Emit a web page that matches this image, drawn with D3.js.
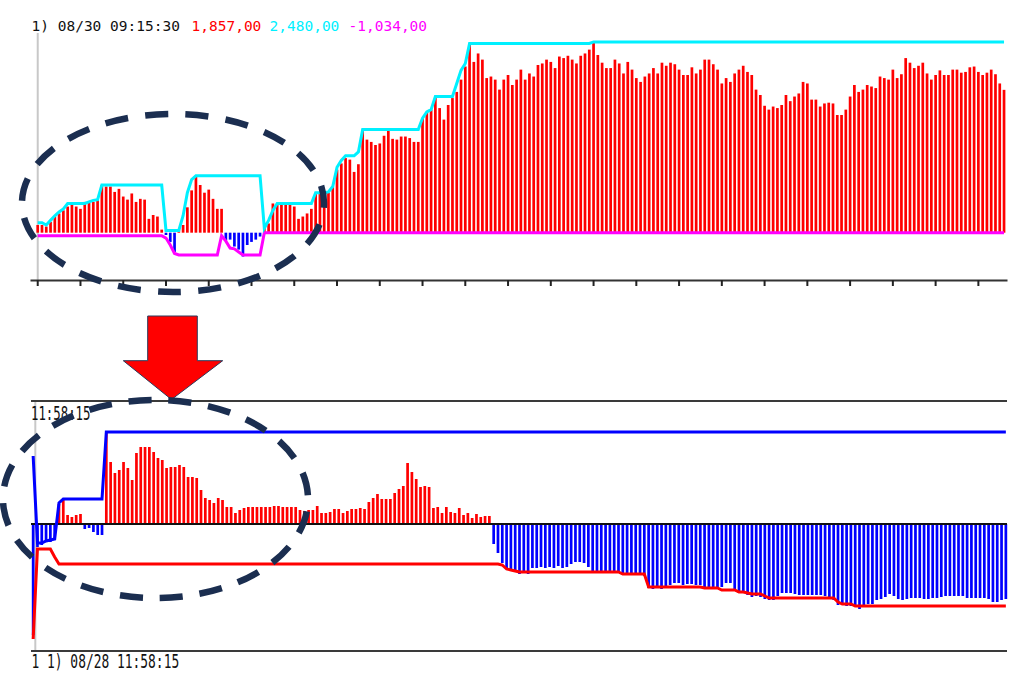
<!DOCTYPE html>
<html><head><meta charset="utf-8">
<script src="https://cdn.jsdelivr.net/npm/d3@7"></script>
<style>
html,body{margin:0;padding:0;background:#fff;}
svg{display:block;}
</style></head>
<body><svg id="c" width="1022" height="684"></svg>
<script>
// ---------- DATA ----------
// Upper panel (08/30): bar values, running high (cyan), running low (magenta)
const topBars = [
100,100,80,140,210,250,290,340,360,340,310,400,390,400,430,620,600,600,530,570,
470,430,510,400,440,430,180,230,210,40,-30,-120,-250,30,100,330,550,740,620,520,
560,440,310,310,-100,-90,-180,-220,-310,-160,-120,-90,-50,80,120,380,360,380,360,380,
340,180,210,250,310,510,
510,480,520,600,820,900,970,950,790,890,
1340,1210,1180,1140,1160,1260,1340,1220,1210,1250,
1250,1230,1180,1180,1490,1570,1600,1770,1620,1470,
1660,1750,1830,1990,2160,2460,2220,2330,2250,2010,
2030,1990,1860,1990,2050,1920,1990,2120,1990,2070,
2030,2180,2200,2250,2220,2140,2290,2270,2300,2250,
2200,2300,2330,2380,2480,2310,2210,2140,2140,2250,
2200,2070,2220,2120,2010,1960,2030,2070,2140,2070,
2210,2170,2210,2190,2120,2050,2050,2150,2070,2120,
2250,2250,2190,2120,1940,2010,1960,2070,2120,2170,
2090,2050,1860,1790,1650,1600,1640,1620,1660,1790,
1710,1770,1810,1960,1940,1730,1730,1640,1680,1690,
1680,1530,1530,1600,1770,1920,1830,1860,1920,1900,
1880,2030,2010,1990,2120,2010,2060,2270,2210,2140,
2170,2210,2070,1990,2050,2110,2050,2050,2120,2120,
2080,2090,2150,2160,2090,2050,2080,2120,2060,1940,
1857];
const topHigh = [
130,130,100,160,220,270,310,380,380,380,380,380,400,420,430,
620,620,620,620,620,620,620,620,620,620,620,620,620,620,620,
30,30,30,30,220,520,690,
740,740,740,740,740,740,740,740,740,740,740,740,740,740,740,740,
60,160,290,380,380,380,380,380,380,380,380,380,520,520,520,530,600,850,940,
1000,1000,1000,1050,
1340,1340,1340,1340,1340,1340,1340,1340,1340,1340,1340,1340,1340,1340,
1490,1570,1600,1770,1770,1770,1770,1770,1940,2110,2200,
2460,2460,2460,2460,2460,2460,2460,2460,2460,2460,2460,2460,2460,2460,2460,
2460,2460,2460,2460,2460,2460,2460,2460,2460,2460,2460,2460,2460,2460,
2480,2480,2480,2480,2480,2480,2480,2480,2480,2480,2480,2480,2480,2480,2480,2480,
2480,2480,2480,2480,2480,2480,2480,2480,2480,2480,2480,2480,2480,2480,2480,2480,
2480,2480,2480,2480,2480,2480,2480,2480,2480,2480,2480,2480,2480,2480,2480,2480,
2480,2480,2480,2480,2480,2480,2480,2480,2480,2480,2480,2480,2480,2480,2480,2480,
2480,2480,2480,2480,2480,2480,2480,2480,2480,2480,2480,2480,2480,2480,2480,2480,
2480,2480,2480,2480,2480,2480,2480,2480,2480,2480,2480,2480,2480,2480,2480,2480,
2480];
const topLow = [
-40,-40,-40,-40,-40,-40,-40,-40,-40,-40,-40,-40,-40,-40,-40,
-40,-40,-40,-40,-40,-40,-40,-40,-40,-40,-40,-40,-40,-40,-40,
-70,-160,-270,-290,-290,-290,-290,-290,-290,-290,-290,-290,-290,
-40,-110,-200,-210,-250,-290,-290,-290,-290,-290,
0,0,0,0,0,0,0,0,0,0,0,0,0,0,0,0,0,0,0,0,0,0,0,0,0,0,0,0,0,0,
0,0,0,0,0,0,0,0,0,0,0,0,0,0,0,0,0,0,0,0,0,0,0,0,0,0,0,0,0,0,
0,0,0,0,0,0,0,0,0,0,0,0,0,0,0,0,0,0,0,0,0,0,0,0,0,0,0,0,0,0,
0,0,0,0,0,0,0,0,0,0,0,0,0,0,0,0,0,0,0,0,0,0,0,0,0,0,0,0,0,0,
0,0,0,0,0,0,0,0,0,0,0,0,0,0,0,0,0,0,0,0,0,0,0,0,0,0,0,0,0,0,
0,0,0,0,0,0,0,0,0,0,0,0,0,0,0,0,0,0,0,0,0,0,0,0];

// Lower panel (08/28)
const botBars = [
-1110,-230,-210,-180,-180,-160,200,250,90,70,90,100,-50,-40,-80,-110,-110,910,620,510,
540,620,560,440,710,770,770,770,720,660,640,560,570,570,590,570,470,470,460,340,
260,240,210,260,240,170,170,110,140,160,170,170,170,170,170,170,180,180,170,170,
170,170,140,130,140,140,180,110,110,120,150,150,110,130,150,150,160,150,220,260,
300,250,250,250,310,350,380,610,520,450,370,380,370,160,170,110,170,120,110,160,
90,110,60,100,70,80,80,-200,-290,-390,-440,-460,-480,-500,-490,-500,-440,-440,-430,-440,
-430,-440,-420,-440,-430,-400,-380,-380,-390,-430,-470,-470,-470,-480,-480,-480,-480,-500,-510,-510,
-510,-500,-520,-640,-650,-630,-650,-630,-610,-590,-590,-610,-600,-600,-610,-610,-650,-650,-650,-650,
-630,-590,-590,-650,-690,-680,-710,-730,-720,-730,-750,-760,-760,-720,-690,-690,-690,-700,-710,-710,
-710,-710,-710,-710,-720,-730,-760,-810,-810,-820,-820,-830,-850,-810,-800,-800,-760,-750,-730,-700,
-720,-750,-760,-750,-740,-740,-740,-750,-750,-740,-740,-730,-720,-720,-720,-720,-720,-740,-740,-740,
-740,-740,-750,-780,-780,-760,-750];
const botHigh = [
680,-190,-190,-170,-160,-150,210,
250,250,250,250,250,250,250,250,250,250,
920,920,920,920,920,920,920,920,920,920,
920,920,920,920,920,920,920,920,920,920,
920,920,920,920,920,920,920,920,920,920,
920,920,920,920,920,920,920,920,920,920,
920,920,920,920,920,920,920,920,920,920,
920,920,920,920,920,920,920,920,920,920,
920,920,920,920,920,920,920,920,920,920,
920,920,920,920,920,920,920,920,920,920,
920,920,920,920,920,920,920,920,920,920,
920,920,920,920,920,920,920,920,920,920,
920,920,920,920,920,920,920,920,920,920,
920,920,920,920,920,920,920,920,920,920,
920,920,920,920,920,920,920,920,920,920,
920,920,920,920,920,920,920,920,920,920,
920,920,920,920,920,920,920,920,920,920,
920,920,920,920,920,920,920,920,920,920,
920,920,920,920,920,920,920,920,920,920,
920,920,920,920,920,920,920,920,920,920,
920,920,920,920,920,920,920,920,920,920,
920,920,920,920,920,920,920,920,920,920,
920,920,920,920,920,920,920,920,920,920];
const botLow = [
-1150,-250,-250,-250,-250,-330,
-400,-400,-400,-400,-400,-400,-400,-400,-400,-400,-400,-400,-400,-400,-400,-400,-400,-400,-400,-400,
-400,-400,-400,-400,-400,-400,-400,-400,-400,-400,-400,-400,-400,-400,-400,-400,-400,-400,-400,-400,
-400,-400,-400,-400,-400,-400,-400,-400,-400,-400,-400,-400,-400,-400,-400,-400,-400,-400,-400,-400,
-400,-400,-400,-400,-400,-400,-400,-400,-400,-400,-400,-400,-400,-400,-400,-400,-400,-400,-400,-400,
-400,-400,-400,-400,-400,-400,-400,-400,-400,-400,-400,-400,-400,-400,-400,-400,-400,-400,-400,-400,
-400,-400,-400,
-410,-450,-460,-470,
-480,-480,-480,-480,-480,-480,-480,-480,-480,-480,-480,-480,-480,-480,-480,-480,-480,-480,-480,-480,-480,-480,-480,-480,
-500,-500,-500,-500,-500,-500,
-630,-630,-630,-630,-630,-630,-630,-630,-630,-630,-630,-630,-630,
-640,-640,-640,-640,-660,-660,-660,-660,-680,-680,-690,-700,-700,-700,-720,
-740,-740,-740,-740,-740,-740,-740,-740,-740,-740,-740,-740,-740,-740,-740,-740,
-780,-800,-800,-800,
-820,-820,-820,-820,-820,-820,-820,-820,-820,-820,-820,-820,-820,-820,-820,-820,-820,-820,
-820,-820,-820,-820,-820,-820,-820,-820,-820,-820,-820,-820,-820,-820,-820,-820,-820,-820];

const topTicks = [0,10,20,30,40,50,60,70,80,90,100,110,120,130,140,150,160,170,180,190,200,210,220];
const headerLabel = "1) 08/30 09:15:30";
const headerValues = ["1,857,00", "2,480,00", "-1,034,00"];
const botTopLabel = "11:58:15";
const botBottomLabel = "1 1) 08/28 11:58:15";

// ---------- DRAW ----------
const svg = d3.select("#c");
const RED = "#ff0000", BLUE = "#0000ff", CYAN = "#00f0ff", MAG = "#ff00ff";
const BAR_W = 2.7;

// ---- upper panel ----
const xT = d3.scaleBand().domain(d3.range(topBars.length)).range([30, 1007])
  .paddingInner(0).paddingOuter(0.75).align(0.87);
const yT = d3.scaleLinear().domain([-615, 2635]).range([280, 30]);
const bwT = xT.bandwidth();
const cxT = i => xT(i) + bwT / 2;

const gT = svg.append("g");
gT.append("line").attr("x1", cxT(0)).attr("x2", cxT(0)).attr("y1", 33).attr("y2", 280)
  .attr("stroke", "#c8c8c8").attr("stroke-width", 2);

gT.selectAll("rect.b").data(topBars).join("rect")
  .attr("x", (d, i) => cxT(i) - BAR_W / 2).attr("width", BAR_W)
  .attr("y", d => Math.min(yT(d), yT(0)))
  .attr("height", d => Math.abs(yT(d) - yT(0)))
  .attr("fill", d => d >= 0 ? RED : BLUE);

const lineT = d3.line().x((d, i) => cxT(i)).y(d => yT(d));
gT.append("path").datum(topLow).attr("d", lineT).attr("fill", "none")
  .attr("stroke", MAG).attr("stroke-width", 3);
gT.append("path").datum(topHigh).attr("d", lineT).attr("fill", "none")
  .attr("stroke", CYAN).attr("stroke-width", 3);

const axT = gT.append("g").attr("transform", "translate(0,280)")
  .call(d3.axisBottom(xT).tickValues(topTicks).tickSize(6).tickSizeOuter(0).tickFormat(""));
axT.select(".domain").attr("stroke", "#333").attr("stroke-width", 2);
axT.selectAll(".tick line").attr("stroke", "#222").attr("stroke-width", 2);

// header text
svg.append("text").attr("x", 31.5).attr("y", 30.5)
  .attr("font-family", "DejaVu Sans Mono, monospace").attr("font-size", 14.5)
  .attr("fill", "#111").text(headerLabel);
const hColors = [RED, CYAN, MAG];
const hX = [191.5, 269.5, 348.5];
headerValues.forEach((t, k) => {
  svg.append("text").attr("x", hX[k]).attr("y", 30.5)
    .attr("font-family", "DejaVu Sans Mono, monospace").attr("font-size", 14.5)
    .attr("fill", hColors[k]).text(t);
});

// ---- lower panel ----
const xB = d3.scaleBand().domain(d3.range(botBars.length)).range([31, 1008]).padding(0);
const yB = d3.scaleLinear().domain([-1270, 1230]).range([651, 401]);
const bwB = xB.bandwidth();
const cxB = i => xB(i) + bwB / 2;
const gB = svg.append("g");

gB.append("line").attr("x1", xB(1)).attr("x2", xB(1)).attr("y1", 402).attr("y2", 650)
  .attr("stroke", "#c8c8c8").attr("stroke-width", 2);

gB.selectAll("rect.b").data(botBars).join("rect")
  .attr("x", (d, i) => cxB(i) - BAR_W / 2).attr("width", BAR_W)
  .attr("y", d => Math.min(yB(d), yB(0)))
  .attr("height", d => Math.abs(yB(d) - yB(0)))
  .attr("fill", d => d >= 0 ? RED : BLUE);

[[yB(1230), 2, "#3a3a3a"], [yB(0), 1.8, "#111"], [yB(-1270), 2, "#3a3a3a"]].forEach(([y, w, c]) => {
  gB.append("line").attr("x1", 31).attr("x2", 1007).attr("y1", y).attr("y2", y)
    .attr("stroke", c).attr("stroke-width", w);
});

const lineB = d3.line().x((d, i) => cxB(i)).y(d => yB(d));
gB.append("path").datum(botLow).attr("d", lineB).attr("fill", "none")
  .attr("stroke", RED).attr("stroke-width", 3);
gB.append("path").datum(botHigh).attr("d", lineB).attr("fill", "none")
  .attr("stroke", BLUE).attr("stroke-width", 3);

svg.append("text").attr("transform", "translate(31,419.5) scale(0.65,1)")
  .attr("font-family", "DejaVu Sans Mono, monospace").attr("font-size", 19)
  .attr("fill", "#111").text(botTopLabel);
svg.append("text").attr("transform", "translate(31.5,668) scale(0.68,1)")
  .attr("font-family", "DejaVu Sans Mono, monospace").attr("font-size", 19)
  .attr("fill", "#111").text(botBottomLabel);

// ---- annotation: arrow ----
svg.append("polygon")
  .attr("points", "147.7,316 197.3,316 197.3,360.7 222.7,360.7 171.5,399.5 123.3,360.7 147.7,360.7")
  .attr("fill", RED).attr("stroke", "#2b3b5c").attr("stroke-width", 1);

// ---- annotation: dashed ellipses ----
svg.append("ellipse").attr("cx", 173).attr("cy", 203).attr("rx", 151).attr("ry", 89)
  .attr("fill", "none").attr("stroke", "#1b2e50").attr("stroke-width", 6.5)
  .attr("stroke-dasharray", "23 17.35").attr("stroke-dashoffset", 18.2);
svg.append("ellipse").attr("cx", 155.5).attr("cy", 499).attr("rx", 152.5).attr("ry", 99)
  .attr("fill", "none").attr("stroke", "#1b2e50").attr("stroke-width", 6.5)
  .attr("stroke-dasharray", "23 16.95").attr("stroke-dashoffset", 27.4);
</script>
</body></html>
